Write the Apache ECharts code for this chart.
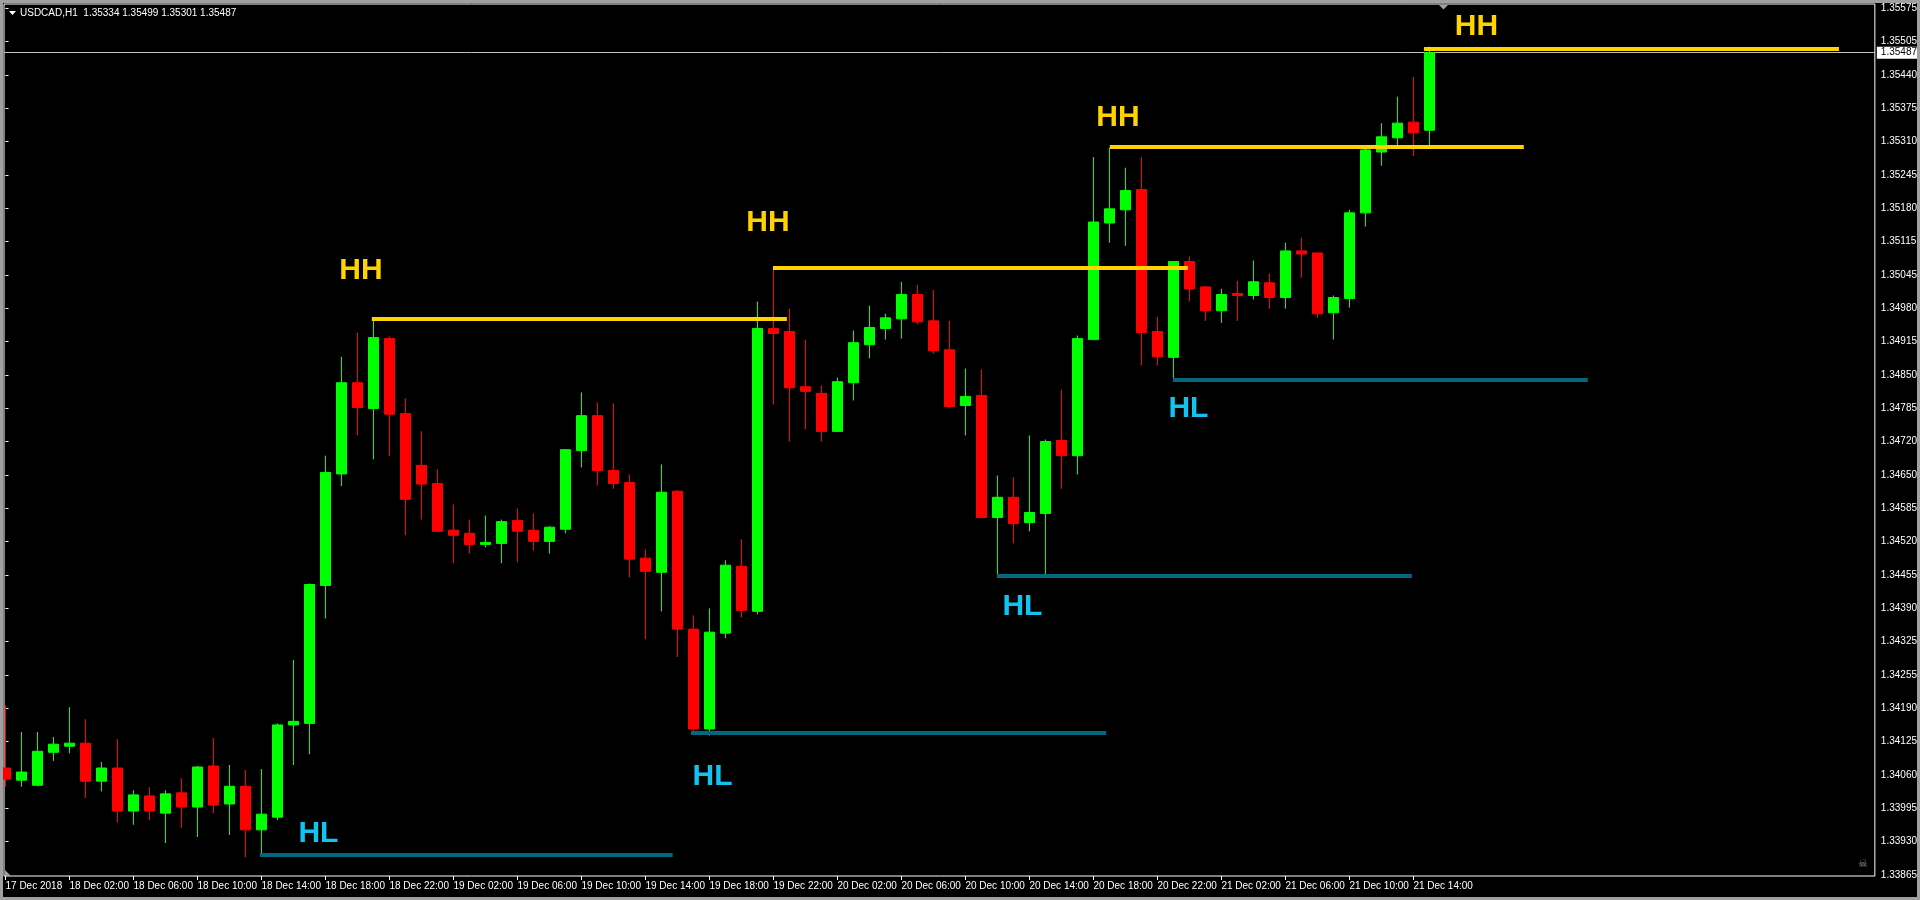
<!DOCTYPE html>
<html>
<head>
<meta charset="utf-8">
<script src="https://cdn.jsdelivr.net/npm/echarts@6/dist/echarts.min.js"></script>
<style>
html,body{margin:0;padding:0;background:#000;}
#c{width:1920px;height:900px;}
</style>
</head>
<body>
<div id="c"></div>
<script>
// ---------- data ----------
const symbolName = 'USDCAD,H1';
const open  = [1.34076,1.34052,1.34042,1.34107,1.34119,1.34125,1.34050,1.34076,1.33991,1.34021,
               1.33987,1.34027,1.33999,1.34080,1.34005,1.34040,1.33954,1.33979,1.34161,1.34164,
               1.34436,1.34656,1.34836,1.34785,1.34923,1.34775,1.34673,1.34637,1.34545,1.34539,
               1.34517,1.34519,1.34564,1.34545,1.34523,1.34547,1.34702,1.34771,1.34663,1.34639,
               1.34490,1.34462,1.34622,1.34350,1.34153,1.34342,1.34474,1.34385,1.34943,1.34937,
               1.34828,1.34815,1.34740,1.34836,1.34911,1.34943,1.34962,1.35010,1.34958,1.34901,
               1.34791,1.34811,1.34570,1.34610,1.34560,1.34578,1.34722,1.34692,1.34921,1.35151,
               1.35177,1.35217,1.34937,1.34886,1.35075,1.35025,1.34978,1.35012,1.35008,1.35033,
               1.35004,1.35096,1.35092,1.34974,1.35002,1.35171,1.35291,1.35319,1.35350,1.35334];
const high  = [1.34200,1.34147,1.34147,1.34137,1.34196,1.34172,1.34088,1.34133,1.34032,1.34038,
               1.34032,1.34056,1.34080,1.34135,1.34082,1.34072,1.34074,1.34164,1.34289,1.34440,
               1.34692,1.34887,1.34935,1.34963,1.34927,1.34805,1.34740,1.34665,1.34596,1.34566,
               1.34574,1.34566,1.34588,1.34578,1.34553,1.34704,1.34817,1.34797,1.34795,1.34655,
               1.34507,1.34675,1.34624,1.34377,1.34391,1.34486,1.34527,1.34996,1.35063,1.34982,
               1.34921,1.34830,1.34846,1.34939,1.34988,1.34972,1.35035,1.35029,1.35019,1.34958,
               1.34864,1.34862,1.34653,1.34649,1.34732,1.34724,1.34822,1.34929,1.35281,1.35300,
               1.35260,1.35281,1.34966,1.35075,1.35085,1.35027,1.35021,1.35037,1.35077,1.35051,
               1.35112,1.35122,1.35092,1.35008,1.35177,1.35297,1.35348,1.35400,1.35439,1.35499];
const low   = [1.34039,1.34039,1.34040,1.34090,1.34105,1.34017,1.34030,1.33969,1.33964,1.33973,
               1.33928,1.33958,1.33940,1.33987,1.33944,1.33900,1.33905,1.33973,1.34082,1.34103,
               1.34371,1.34632,1.34732,1.34685,1.34691,1.34535,1.34566,1.34543,1.34480,1.34499,
               1.34511,1.34480,1.34482,1.34505,1.34499,1.34539,1.34669,1.34633,1.34627,1.34452,
               1.34330,1.34385,1.34295,1.34145,1.34140,1.34332,1.34373,1.34379,1.34793,1.34720,
               1.34744,1.34720,1.34740,1.34801,1.34884,1.34921,1.34923,1.34951,1.34893,1.34787,
               1.34732,1.34570,1.34455,1.34519,1.34543,1.34456,1.34627,1.34655,1.34921,1.35112,
               1.35106,1.34870,1.34870,1.34842,1.34996,1.34958,1.34954,1.34958,1.35000,1.34982,
               1.34982,1.35043,1.34964,1.34921,1.34984,1.35144,1.35264,1.35305,1.35283,1.35301];
const close = [1.34054,1.34068,1.34109,1.34123,1.34125,1.34050,1.34076,1.33991,1.34023,1.33991,
               1.34025,1.33999,1.34078,1.34003,1.34040,1.33954,1.33985,1.34161,1.34168,1.34438,
               1.34659,1.34836,1.34787,1.34925,1.34774,1.34606,1.34636,1.34543,1.34535,1.34517,
               1.34521,1.34562,1.34543,1.34523,1.34551,1.34704,1.34771,1.34663,1.34637,1.34488,
               1.34464,1.34620,1.34350,1.34153,1.34344,1.34476,1.34387,1.34943,1.34933,1.34826,
               1.34819,1.34740,1.34838,1.34915,1.34945,1.34964,1.35010,1.34956,1.34899,1.34789,
               1.34809,1.34570,1.34610,1.34558,1.34580,1.34720,1.34692,1.34923,1.35153,1.35179,
               1.35215,1.34935,1.34887,1.35075,1.35021,1.34978,1.35010,1.35008,1.35035,1.35004,
               1.35096,1.35090,1.34972,1.35004,1.35171,1.35295,1.35321,1.35348,1.35329,1.35487];

const timeLabels = ['17 Dec 2018','18 Dec 02:00','18 Dec 06:00','18 Dec 10:00','18 Dec 14:00','18 Dec 18:00',
  '18 Dec 22:00','19 Dec 02:00','19 Dec 06:00','19 Dec 10:00','19 Dec 14:00','19 Dec 18:00','19 Dec 22:00',
  '20 Dec 02:00','20 Dec 06:00','20 Dec 10:00','20 Dec 14:00','20 Dec 18:00','20 Dec 22:00','21 Dec 02:00',
  '21 Dec 06:00','21 Dec 10:00','21 Dec 14:00'];
const barsPerTimeLabel = 4;

const priceLabels = ['1.33865','1.33930','1.33995','1.34060','1.34125','1.34190','1.34255','1.34325','1.34390',
  '1.34455','1.34520','1.34585','1.34650','1.34720','1.34785','1.34850','1.34915','1.34980','1.35045','1.35115',
  '1.35180','1.35245','1.35310','1.35375','1.35440','1.35505','1.35575'];

// trend-line annotations (bar index, price)
const hhLevels = [1.34963, 1.35063, 1.35302, 1.35495];
const hhStart  = [22.9, 47.97, 69.03, 88.66];
const hhEnd    = [48.84, 73.9, 94.9, 114.6];
const hlLevels = [1.33905, 1.34145, 1.34455, 1.34842];
const hlStart  = [15.9, 42.84, 61.97, 72.97];
const hlEnd    = [41.7, 68.8, 87.9, 98.9];
// text annotations
const hhTextX = [22.22, 47.66, 69.53, 91.94];
const hhTextY = [1.35057, 1.35151, 1.35358, 1.35538];
const hlTextX = [19.56, 44.19, 63.56, 73.94];
const hlTextY = [1.33946, 1.34058, 1.34395, 1.34785];

// ---------- build ----------
const lastIdx = open.length - 1;
const currentPrice = close[lastIdx];
const titleText = symbolName + '  ' + [open[lastIdx], high[lastIdx], low[lastIdx], close[lastIdx]].map(v => v.toFixed(5)).join(' ');
const candles = open.map((o, i) => [i, o, close[i], low[i], high[i]]);
const timeTickBars = timeLabels.map((_, k) => k * barsPerTimeLabel);
const priceBase = parseFloat(priceLabels[0]);
const priceStep = 0.00065746;
const priceTickValues = priceLabels.map((_, k) => priceBase + k * priceStep);
const xMin = -0.09375, xMax = 116.84375;

const FONT = 'Liberation Sans, Arial, sans-serif';
const chart = echarts.init(document.getElementById('c'), null, {renderer: 'canvas'});
chart.setOption({
  backgroundColor: '#000',
  animation: false,
  grid: {left: 4, top: 4, right: 45, bottom: 24, show: true, borderColor: '#ffffff', borderWidth: 1, backgroundColor: 'transparent'},
  xAxis: {
    type: 'value', min: xMin, max: xMax,
    axisLine: {show: false}, splitLine: {show: false},
    axisTick: {show: true, customValues: timeTickBars, length: 4, lineStyle: {color: '#ffffff'}},
    axisLabel: {customValues: timeTickBars, formatter: v => timeLabels[Math.round(v / barsPerTimeLabel)],
      color: '#ffffff', fontSize: 10, fontFamily: FONT, align: 'left', margin: 5}
  },
  yAxis: {
    type: 'value', position: 'right', min: 1.33863, max: 1.35583, scale: true,
    axisLine: {show: false}, splitLine: {show: false},
    axisTick: {show: true, customValues: priceTickValues, length: 3, lineStyle: {color: '#ffffff'}},
    axisLabel: {customValues: priceTickValues, formatter: v => priceLabels[Math.round((v - priceBase) / priceStep)],
      color: '#ffffff', fontSize: 10, fontFamily: FONT, margin: 6}
  },
  series: [
    {
      type: 'candlestick', data: candles, encode: {x: 0, y: [1, 2, 3, 4]},
      barWidth: 10, z: 2,
      itemStyle: {color: '#00ff00', color0: '#ff0000', borderColor: '#00ff00', borderColor0: '#ff0000', borderWidth: 1}
    },
    {
      type: 'lines', coordinateSystem: 'cartesian2d', z: 5, silent: true,
      lineStyle: {color: '#ffd200', width: 4, opacity: 1, cap: 'butt'},
      data: hhLevels.map((y, i) => ({coords: [[hhStart[i], y], [hhEnd[i], y]]}))
    },
    {
      type: 'lines', coordinateSystem: 'cartesian2d', z: 5, silent: true,
      lineStyle: {color: '#03677f', width: 4, opacity: 1, cap: 'butt'},
      data: hlLevels.map((y, i) => ({coords: [[hlStart[i], y], [hlEnd[i], y]]}))
    },
    {
      type: 'scatter', z: 6, silent: true, symbolSize: 0, itemStyle: {opacity: 1},
      data: hhTextX.map((x, i) => [x, hhTextY[i], 'HH']),
      label: {show: true, position: 'inside', formatter: p => p.value[2], color: '#ffd200',
        fontSize: 30, fontWeight: 'bold', fontFamily: FONT}
    },
    {
      type: 'scatter', z: 6, silent: true, symbolSize: 0, itemStyle: {opacity: 1},
      data: hlTextX.map((x, i) => [x, hlTextY[i], 'HL']),
      label: {show: true, position: 'inside', formatter: p => p.value[2], color: '#12c3f0',
        fontSize: 30, fontWeight: 'bold', fontFamily: FONT},
      markLine: {
        silent: true, symbol: ['none', 'none'], animation: false, z: 1, precision: 5,
        data: [{yAxis: currentPrice}],
        lineStyle: {color: '#c0c0c0', width: 1, type: 'solid', opacity: 1},
        label: {show: true, position: 'end', formatter: currentPrice.toFixed(5), backgroundColor: '#ffffff', color: '#000000',
          fontSize: 10, fontFamily: FONT, padding: [1, 6, 1, 4], distance: 2}
      }
    }
  ],
  graphic: [
    {type: 'rect', silent: true, z: 100, shape: {x: 0, y: 0, width: 1920, height: 900},
      style: {fill: 'none', stroke: '#a0a0a0', lineWidth: 6}},
    {type: 'polygon', silent: true, z: 100, shape: {points: [[9, 11], [16, 11], [12.5, 15]]}, style: {fill: '#ffffff'}},
    {type: 'text', silent: true, z: 100, x: 20, y: 13,
      style: {text: titleText, fill: '#ffffff', font: '10px ' + FONT, verticalAlign: 'middle', align: 'left'}},
    {type: 'polygon', silent: true, z: 100, shape: {points: [[1439, 5], [1448, 5], [1443.5, 9.5]]}, style: {fill: '#a0a0a0'}},
    {type: 'polygon', silent: true, z: 100, shape: {points: [[5, 870], [5, 876], [11, 876]]}, style: {fill: '#a0a0a0'}},
    {type: 'text', silent: true, z: 100, x: 1863, y: 864,
      style: {text: '\u2620', fill: '#8a8a8a', font: '11px DejaVu Sans', verticalAlign: 'middle', align: 'center'}}
  ]
});
</script>
</body>
</html>
